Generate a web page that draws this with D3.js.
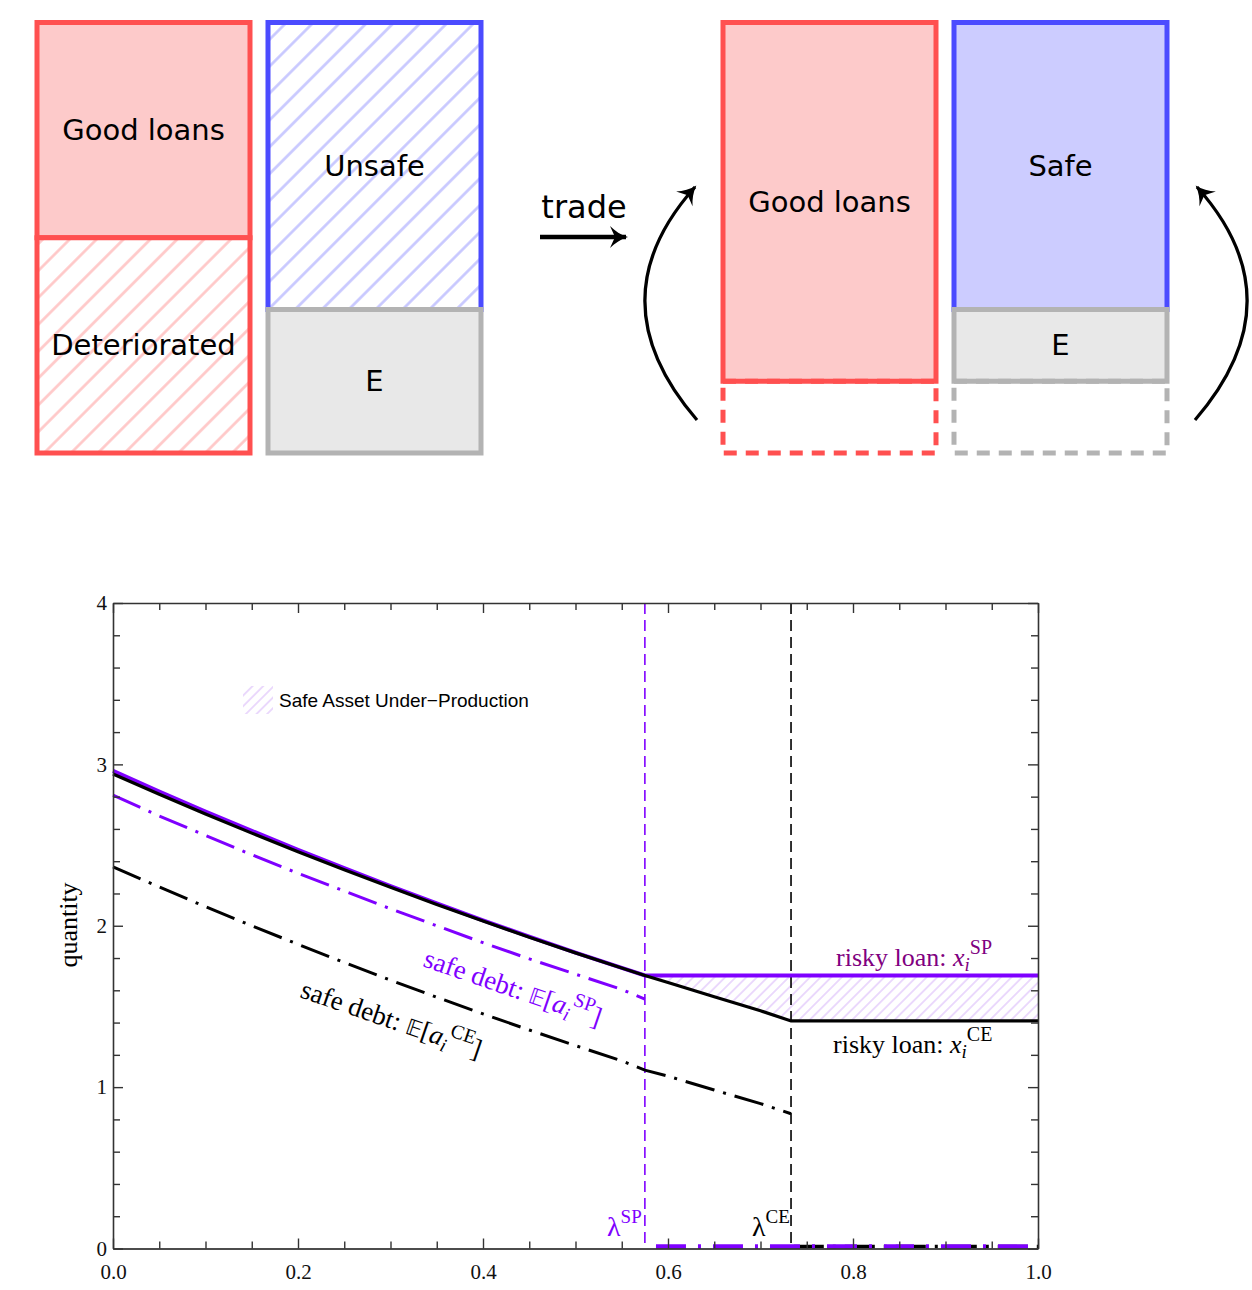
<!DOCTYPE html>
<html lang="en">
<head>
<meta charset="UTF-8">
<title>Safe Asset Under-Production</title>
<script src="https://cdnjs.cloudflare.com/ajax/libs/d3/7.8.5/d3.min.js"></script>
<style>
    body { margin: 0; background: #fff; }
    svg { display: block; }
    .diagram text { font-family: "DejaVu Sans", sans-serif; font-size: 29px; fill: #000; }
    .chart text { font-family: "Liberation Serif", "Times New Roman", serif; }
    .axis path, .axis line { stroke: #333; }
</style>
</head>
<body>
<svg width="1252" height="1290"></svg>
<script>
// balance sheets: block heights in units (each column is 6 units tall)
const leftAssets  = [{label: "Good loans", units: 3, kind: "good"}, {label: "Deteriorated", units: 3, kind: "bad"}];
const leftLiabs   = [{label: "Unsafe", units: 4, kind: "unsafe"}, {label: "E", units: 2, kind: "equity"}];
const rightAssets = [{label: "Good loans", units: 5, kind: "good"}, {label: "", units: 1, kind: "goneRed"}];
const rightLiabs  = [{label: "Safe", units: 4, kind: "safe"}, {label: "E", units: 1, kind: "equity"}, {label: "", units: 1, kind: "goneGrey"}];

// chart data
const lamSP = 0.575, lamCE = 0.733;
const xDecl    = [0, 0.05, 0.1, 0.15, 0.2, 0.25, 0.3, 0.35, 0.4, 0.45, 0.5, 0.55, 0.575, 0.6, 0.65, 0.7, 0.733];
const riskyCE  = [2.94, 2.815, 2.693, 2.574, 2.459, 2.347, 2.238, 2.132, 2.029, 1.929, 1.832, 1.738, 1.692, 1.648, 1.560, 1.473, 1.41];
const riskySP  = [2.96, 2.832, 2.708, 2.588, 2.471, 2.357, 2.246, 2.138, 2.034, 1.932, 1.834, 1.739, 1.692];
const safeSP   = [2.81, 2.68, 2.56, 2.44, 2.325, 2.215, 2.105, 2.0, 1.895, 1.795, 1.70, 1.605, 1.545];
const safeCE   = [2.365, 2.24, 2.118, 2.0, 1.885, 1.772, 1.663, 1.557, 1.454, 1.354, 1.257, 1.163, 1.105, 1.068, 0.982, 0.898, 0.835];
const riskySPflat = 1.692, riskyCEflat = 1.41, safeAfter = 0.012;
const xTicks = [0, 0.2, 0.4, 0.6, 0.8, 1.0];
const yTicks = [0, 1, 2, 3, 4];

const svg = d3.select("svg");
const defs = svg.append("defs");

function hatch(id, color, gap, width) {
    const p = defs.append("pattern").attr("id", id)
        .attr("patternUnits", "userSpaceOnUse")
        .attr("width", gap).attr("height", gap)
        .attr("patternTransform", "rotate(45)");
    p.append("rect").attr("width", gap).attr("height", gap).attr("fill", "#fff");
    p.append("line").attr("x1", gap / 2).attr("x2", gap / 2).attr("y1", 0).attr("y2", gap)
        .attr("stroke", color).attr("stroke-width", width);
}
hatch("hatchRed", "#ffc6c6", 19, 2.6);
hatch("hatchBlue", "#c6c6ff", 19, 2.6);
hatch("hatchPurple", "#d9b6fa", 7.5, 1);

defs.append("marker").attr("id", "head")
    .attr("markerUnits", "userSpaceOnUse")
    .attr("viewBox", "-20 -13 24 26")
    .attr("markerWidth", 24).attr("markerHeight", 26)
    .attr("refX", 0).attr("refY", 0).attr("orient", "auto")
    .append("path").attr("d", "M2,0 C-5,-2 -11,-6 -16,-11 L-11,0 L-16,11 C-11,6 -5,2 2,0 Z")
    .attr("fill", "#000");

// ---------- balance sheet diagram ----------
const styles = {
    good:     {fill: "#fdcaca", stroke: "#ff5050"},
    bad:      {fill: "url(#hatchRed)", stroke: "#ff5050"},
    unsafe:   {fill: "url(#hatchBlue)", stroke: "#4b4bff"},
    safe:     {fill: "#ccccff", stroke: "#4b4bff"},
    equity:   {fill: "#e8e8e8", stroke: "#b3b3b3"},
    goneRed:  {fill: "none", stroke: "#ff5050", dash: "13,9"},
    goneGrey: {fill: "none", stroke: "#b3b3b3", dash: "13,9"}
};
const yU = d3.scaleLinear([0, 6], [22.5, 453]);
const colW = 213;
const diagram = svg.append("g").attr("class", "diagram");

[[37, leftAssets], [268, leftLiabs], [723, rightAssets], [954, rightLiabs]].forEach(([x0, blocks]) => {
    let acc = 0;
    blocks.forEach(b => {
        const s = styles[b.kind];
        const top = yU(acc), bot = yU(acc + b.units);
        acc += b.units;
        diagram.append("rect")
            .attr("x", x0).attr("y", top).attr("width", colW).attr("height", bot - top)
            .attr("fill", s.fill).attr("stroke", s.stroke).attr("stroke-width", 5)
            .attr("stroke-dasharray", s.dash || null);
        if (b.label) {
            diagram.append("text")
                .attr("x", x0 + colW / 2).attr("y", (top + bot) / 2)
                .attr("text-anchor", "middle").attr("dominant-baseline", "central")
                .text(b.label);
        }
    });
});

diagram.append("text").attr("x", 584).attr("y", 218).attr("text-anchor", "middle")
    .style("font-size", "32px").text("trade");
diagram.append("line").attr("x1", 540).attr("x2", 626).attr("y1", 237).attr("y2", 237)
    .attr("stroke", "#000").attr("stroke-width", 4.5).attr("marker-end", "url(#head)");
diagram.append("path").attr("d", "M697,420 C628,340 628,262 695,187")
    .attr("fill", "none").attr("stroke", "#000").attr("stroke-width", 3.2).attr("marker-end", "url(#head)");
diagram.append("path").attr("d", "M1195,420 C1264,340 1264,262 1197,187")
    .attr("fill", "none").attr("stroke", "#000").attr("stroke-width", 3.2).attr("marker-end", "url(#head)");

// ---------- chart ----------
const x = d3.scaleLinear([0, 1], [113, 1038]);
const y = d3.scaleLinear([0, 4], [1248.5, 603]);
const chart = svg.append("g").attr("class", "chart");

const purple = "#7f00ff";
const line = d3.line().x(d => x(d[0])).y(d => y(d[1]));
const pts = (xs, ys) => ys.map((v, i) => [xs[i], v]);

// hatched gap between SP and CE risky loan
const gap = xDecl.map((v, i) => [v, riskyCE[i]]).filter(d => d[0] >= lamSP).concat([[1, riskyCEflat]]);
chart.append("path")
    .attr("d", d3.area().x(d => x(d[0])).y0(d => y(d[1])).y1(y(riskySPflat))(gap))
    .attr("fill", "url(#hatchPurple)");

// vertical thresholds
chart.append("line").attr("x1", x(lamSP)).attr("x2", x(lamSP)).attr("y1", y(4)).attr("y2", y(0))
    .attr("stroke", purple).attr("stroke-width", 1.6).attr("stroke-dasharray", "11,6");
chart.append("line").attr("x1", x(lamCE)).attr("x2", x(lamCE)).attr("y1", y(4)).attr("y2", y(0))
    .attr("stroke", "#000").attr("stroke-width", 1.6).attr("stroke-dasharray", "11,6");

const dashDot = "30,9,3,9";
// safe debt CE
chart.append("path").attr("d", line(pts(xDecl, safeCE)))
    .attr("fill", "none").attr("stroke", "#000").attr("stroke-width", 3).attr("stroke-dasharray", dashDot);
chart.append("path").attr("d", line([[lamCE + 0.003, safeAfter], [1, safeAfter]]))
    .attr("fill", "none").attr("stroke", "#000").attr("stroke-width", 3.5).attr("stroke-dasharray", dashDot);
// safe debt SP
chart.append("path").attr("d", line(pts(xDecl, safeSP)))
    .attr("fill", "none").attr("stroke", purple).attr("stroke-width", 3).attr("stroke-dasharray", dashDot);
chart.append("path").attr("d", line([[lamSP + 0.012, safeAfter], [1, safeAfter]]))
    .attr("fill", "none").attr("stroke", purple).attr("stroke-width", 4.5).attr("stroke-dasharray", "30,12,3,12");
// risky loan SP
chart.append("path").attr("d", line(pts(xDecl, riskySP).concat([[1, riskySPflat]])))
    .attr("fill", "none").attr("stroke", purple).attr("stroke-width", 4);
// risky loan CE
chart.append("path").attr("d", line(pts(xDecl, riskyCE).concat([[1, riskyCEflat]])))
    .attr("fill", "none").attr("stroke", "#000").attr("stroke-width", 3.2);

// axes: ticks inward on all four sides
const minorX = d3.range(0, 1.0001, 0.05).filter(v => Math.abs(v * 5 - Math.round(v * 5)) > 1e-6);
const minorY = d3.range(0, 4.0001, 0.2).filter(v => Math.abs(v - Math.round(v)) > 1e-6);
function axisPair(axisGen, scale, major, minor, transform, labels) {
    const gMaj = chart.append("g").attr("class", "axis").attr("transform", transform)
        .call(axisGen(scale).tickValues(major).tickSizeInner(-10).tickSizeOuter(0)
            .tickFormat(labels ? labels : () => ""));
    chart.append("g").attr("class", "axis").attr("transform", transform)
        .call(axisGen(scale).tickValues(minor).tickSizeInner(-7).tickSizeOuter(0).tickFormat(() => ""));
    gMaj.selectAll("path").attr("stroke-width", 1.6);
    return gMaj;
}
const gx = axisPair(d3.axisBottom, x, xTicks, minorX, `translate(0,${y(0)})`, d3.format(".1f"));
axisPair(d3.axisTop, x, xTicks, minorX, `translate(0,${y(4)})`, null);
const gy = axisPair(d3.axisLeft, y, yTicks, minorY, `translate(${x(0)},0)`, d3.format("d"));
axisPair(d3.axisRight, y, yTicks, minorY, `translate(${x(1)},0)`, null);
gx.selectAll("text").attr("dy", null).attr("y", 30).style("font-size", "21px").attr("fill", "#111");
gy.selectAll("text").attr("x", -6).style("font-size", "21px").attr("fill", "#111");
chart.selectAll(".axis line").attr("stroke-width", 1.4);

chart.append("text").attr("transform", "translate(77,925) rotate(-90)")
    .attr("text-anchor", "middle").style("font-size", "26px").text("quantity");

// legend
chart.append("rect").attr("x", 243).attr("y", 686).attr("width", 30).attr("height", 28)
    .attr("fill", "url(#hatchPurple)");
chart.append("text").attr("x", 279).attr("y", 707)
    .style("font-family", "'Liberation Sans', Arial, sans-serif").style("font-size", "19px")
    .text("Safe Asset Under\u2212Production");

// annotations
function mathLabel(g, parts) {
    parts.forEach(p => {
        const t = g.append("tspan").text(p.t);
        if (p.it) t.style("font-style", "italic");
        if (p.dy) t.attr("dy", p.dy);
        if (p.fs) t.style("font-size", p.fs);
        if (p.bb) t.style("font-family", "'DejaVu Sans', serif").style("font-size", "22px");
    });
}
const riskySPLabel = chart.append("text").attr("x", 836).attr("y", 966).attr("fill", "#800080").style("font-size", "26px");
mathLabel(riskySPLabel, [{t: "risky loan: "}, {t: "x", it: 1}, {t: "i", it: 1, dy: 5, fs: "19px"}, {t: "SP", dy: -17, fs: "20px"}]);
const riskyCELabel = chart.append("text").attr("x", 833).attr("y", 1053).attr("fill", "#000").style("font-size", "26px");
mathLabel(riskyCELabel, [{t: "risky loan: "}, {t: "x", it: 1}, {t: "i", it: 1, dy: 5, fs: "19px"}, {t: "CE", dy: -17, fs: "20px"}]);

const safeSPLabel = chart.append("text").attr("transform", "translate(422,966) rotate(19)")
    .attr("fill", purple).style("font-size", "27px");
mathLabel(safeSPLabel, [{t: "safe debt: "}, {t: "\u{1D53C}", bb: 1}, {t: "["}, {t: "a", it: 1}, {t: "i", it: 1, dy: 5, fs: "19px"},
    {t: "SP", dy: -17, fs: "20px"}, {t: "]", dy: 12}]);
const safeCELabel = chart.append("text").attr("transform", "translate(299,997) rotate(19)")
    .attr("fill", "#000").style("font-size", "27px");
mathLabel(safeCELabel, [{t: "safe debt: "}, {t: "\u{1D53C}", bb: 1}, {t: "["}, {t: "a", it: 1}, {t: "i", it: 1, dy: 5, fs: "19px"},
    {t: "CE", dy: -17, fs: "20px"}, {t: "]", dy: 12}]);

const lsp = chart.append("text").attr("x", 607).attr("y", 1236).attr("fill", purple).style("font-size", "28px");
mathLabel(lsp, [{t: "\u03bb"}, {t: "SP", dy: -13, fs: "19px"}]);
const lce = chart.append("text").attr("x", 752).attr("y", 1236).attr("fill", "#000").style("font-size", "28px");
mathLabel(lce, [{t: "\u03bb"}, {t: "CE", dy: -13, fs: "19px"}]);
</script>
</body>
</html>
